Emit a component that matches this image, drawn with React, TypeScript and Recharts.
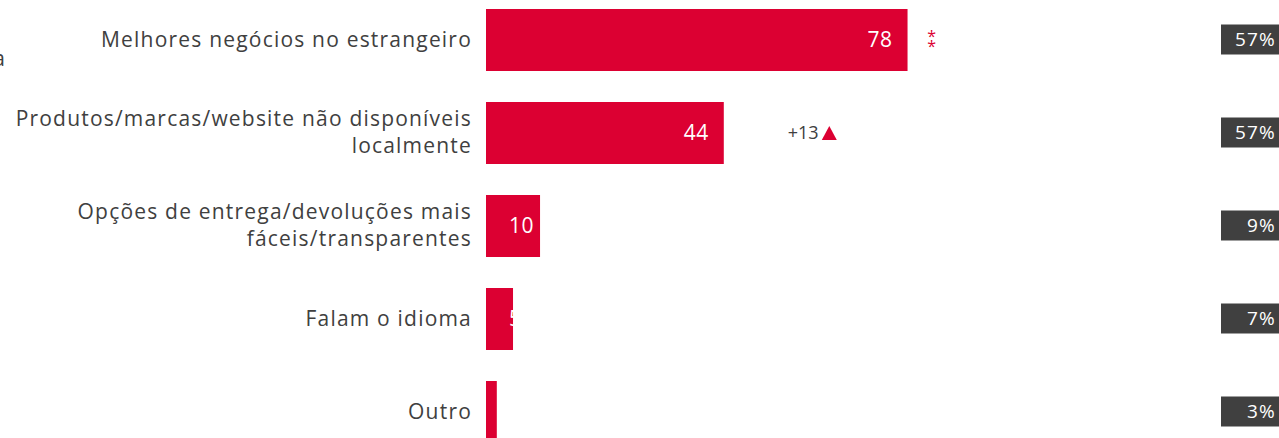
import { Bar, BarChart, LabelList, XAxis, YAxis } from "recharts";

const RED = "#DC0032";
const DARK = "#404040";
const FONT = "'Open Sans', sans-serif";

const categories = [
  "Melhores negócios no estrangeiro",
  "Produtos/marcas/website não disponíveis\nlocalmente",
  "Opções de entrega/devoluções mais\nfáceis/transparentes",
  "Falam o idioma",
  "Outro",
];
const values = [78, 44, 10, 5, 2];
const shares = ["57%", "57%", "9%", "7%", "3%"];
const deltas = ["", "+13", "", "", ""];
const significance = ["**", "", "", "", ""];

const data = categories.map((name, i) => ({
  name,
  value: values[i],
  share: shares[i],
  delta: deltas[i],
  sig: significance[i],
}));

function CategoryTick(props: any) {
  const { x, y, payload } = props;
  const lines = String(payload.value).split("\n");
  const lh = 27;
  const y0 = y - ((lines.length - 1) * lh) / 2;
  return (
    <g>
      {lines.map((l, i) => (
        <text
          key={i}
          x={x}
          y={y0 + i * lh}
          dy="0.35em"
          textAnchor="end"
          fill={DARK}
          fontSize={21}
          letterSpacing={1.2}
          fontFamily={FONT}
        >
          {l}
        </text>
      ))}
    </g>
  );
}

function ShareTick(props: any) {
  const { x, y, index } = props;
  return (
    <g>
      <rect x={x} y={y - 15} width={62} height={30} fill={DARK} />
      <text
        x={x + 55}
        y={y}
        dy="0.35em"
        textAnchor="end"
        fill="#FFFFFF"
        fontSize={19}
        letterSpacing={1.2}
        fontFamily={FONT}
      >
        {shares[index]}
      </text>
    </g>
  );
}

function ValueLabel(props: any) {
  const { x, y, width, height, value } = props;
  if (value < 3) return null;
  const big = width > 60;
  return (
    <text
      x={big ? x + width - 15 : x + 23}
      y={y + height / 2}
      dy="0.35em"
      textAnchor={big ? "end" : "start"}
      fill="#FFFFFF"
      fontSize={21}
      letterSpacing={0.5}
      fontFamily={FONT}
    >
      {value}
    </text>
  );
}

function NoteLabel(props: any) {
  const { x, y, width, height, index } = props;
  const cy = y + height / 2;
  const end = x + width;
  const d = data[index];
  return (
    <g>
      {d.sig ? (
        <text textAnchor="middle" fill={RED} fontSize={16} fontFamily={FONT}>
          {d.sig.split("").map((s, i) => (
            <tspan key={i} x={end + 24} y={cy - 9 + i * 10} dy="0.7em">
              {s}
            </tspan>
          ))}
        </text>
      ) : null}
      {d.delta ? (
        <g>
          <text x={end + 64} y={cy} dy="0.35em" fill={DARK} fontSize={18} fontFamily={FONT}>
            {d.delta}
          </text>
          <path
            d={`M${end + 98},${cy + 7} L${end + 105.5},${cy - 7} L${end + 113},${cy + 7} Z`}
            fill={RED}
          />
        </g>
      ) : null}
    </g>
  );
}

export default function App() {
  return (
    <div
      style={{
        position: "absolute",
        left: 0,
        top: 0,
        width: 1279,
        height: 438,
        overflow: "hidden",
        background: "#FFFFFF",
      }}
    >
      <svg width={20} height={80} style={{ position: "absolute", left: 0, top: 0 }}>
        <text x={5} y={66} textAnchor="end" fill={DARK} fontSize={21} fontFamily={FONT}>
          a
        </text>
      </svg>
      <div style={{ marginTop: -7 }}>
        <BarChart
          layout="vertical"
          width={1279}
          height={465}
          data={data}
          margin={{ top: 0, right: 0, bottom: 0, left: 0 }}
          barSize={62}
        >
          <XAxis type="number" domain={[0, 136]} hide />
          <YAxis
            yAxisId="left"
            type="category"
            dataKey="name"
            width={486}
            axisLine={false}
            tickLine={false}
            tickSize={0}
            tickMargin={14}
            tick={<CategoryTick />}
            interval={0}
          />
          <YAxis
            yAxisId="right"
            orientation="right"
            type="category"
            dataKey="name"
            width={58}
            axisLine={false}
            tickLine={false}
            tickSize={0}
            tickMargin={0}
            tick={<ShareTick />}
            interval={0}
          />
          <Bar dataKey="value" yAxisId="left" fill={RED} isAnimationActive={false}>
            <LabelList dataKey="value" content={<ValueLabel />} />
            <LabelList dataKey="name" content={<NoteLabel />} />
          </Bar>
        </BarChart>
      </div>
    </div>
  );
}
